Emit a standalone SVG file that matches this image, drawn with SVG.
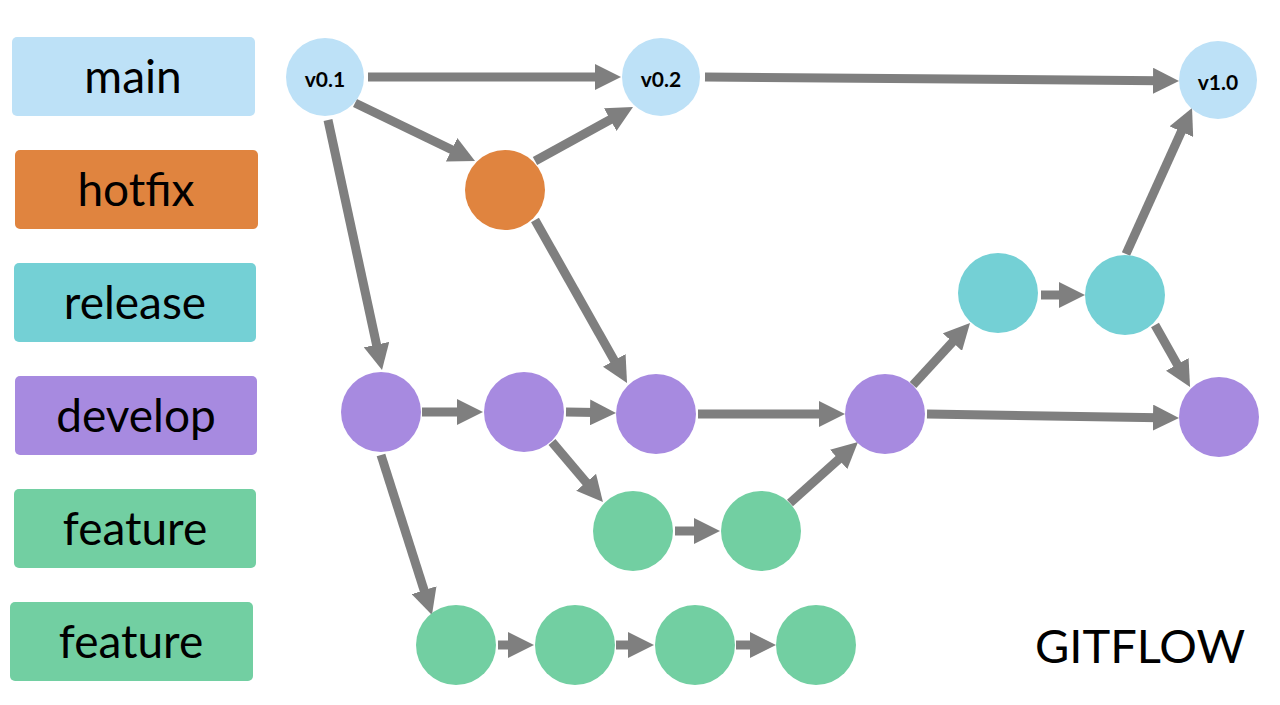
<svg xmlns="http://www.w3.org/2000/svg" width="1280" height="705" viewBox="0 0 1280 705">
<style>
.lbl{font-family:Lato,"Open Sans","Liberation Sans",sans-serif;font-size:46px;fill:#000;text-anchor:middle;dominant-baseline:central}
.ver{font-family:Lato,"Open Sans","Liberation Sans",sans-serif;font-size:21px;font-weight:bold;fill:#000;text-anchor:middle;dominant-baseline:central}
.main{fill:#BDE1F7}.hot{fill:#E0843F}.rel{fill:#74D0D5}.dev{fill:#A78AE0}.feat{fill:#72CFA2}
.c line{stroke:#7F7F7F;stroke-width:9;marker-end:url(#ah)}
</style>
<defs>
<marker id="ah" viewBox="0 0 26 26" refX="6" refY="13" markerWidth="26" markerHeight="26" markerUnits="userSpaceOnUse" orient="auto">
<path d="M0,0 L26,13 L0,26 z" fill="#7F7F7F"/>
</marker>
</defs>
<rect width="1280" height="705" fill="#fff"/>
<g id="legend">
<g id="lg-main"><rect class="main" x="12" y="37" width="243" height="79" rx="5"/><text class="lbl" x="133" y="75">main</text></g>
<g id="lg-hotfix"><rect class="hot" x="15" y="150" width="243" height="79" rx="5"/><text class="lbl" x="136" y="188">hotfix</text></g>
<g id="lg-release"><rect class="rel" x="14" y="263" width="242" height="79" rx="5"/><text class="lbl" x="135" y="301">release</text></g>
<g id="lg-develop"><rect class="dev" x="15" y="376" width="242" height="79" rx="5"/><text class="lbl" x="136" y="414">develop</text></g>
<g id="lg-feature1"><rect class="feat" x="14" y="489" width="242" height="79" rx="5"/><text class="lbl" x="135" y="527">feature</text></g>
<g id="lg-feature2"><rect class="feat" x="10" y="602" width="243" height="79" rx="5"/><text class="lbl" x="131" y="640">feature</text></g>
</g>
<g id="connectors" class="c">
<line x1="368" y1="77" x2="601" y2="77"/>
<line x1="705" y1="77" x2="1159" y2="80.8"/>
<line x1="355" y1="103" x2="457" y2="152.3"/>
<line x1="535" y1="161" x2="615.5" y2="116.7"/>
<line x1="328" y1="120" x2="377.8" y2="350.5"/>
<line x1="535" y1="220" x2="617.2" y2="365.6"/>
<line x1="422" y1="412" x2="463" y2="412"/>
<line x1="566" y1="412" x2="596" y2="412.6"/>
<line x1="552" y1="442" x2="590" y2="486.8"/>
<line x1="675" y1="531" x2="700" y2="531"/>
<line x1="790" y1="503" x2="843.1" y2="455.4"/>
<line x1="698" y1="414" x2="825" y2="414"/>
<line x1="913" y1="385" x2="956.5" y2="337.7"/>
<line x1="1041" y1="295" x2="1065" y2="295"/>
<line x1="1126" y1="254" x2="1183.8" y2="126.2"/>
<line x1="1155" y1="325" x2="1180.2" y2="369.6"/>
<line x1="927" y1="414" x2="1159" y2="417.7"/>
<line x1="381" y1="455" x2="425.9" y2="595.9"/>
<line x1="498" y1="645" x2="514" y2="645"/>
<line x1="616" y1="645" x2="634" y2="645"/>
<line x1="736" y1="645" x2="756" y2="645"/>
</g>
<g id="n-v01"><circle class="main" cx="325" cy="77" r="39"/><text class="ver" x="325" y="78">v0.1</text></g>
<g id="n-v02"><circle class="main" cx="661" cy="77" r="39"/><text class="ver" x="661" y="78">v0.2</text></g>
<g id="n-v10"><circle class="main" cx="1218" cy="80" r="39"/><text class="ver" x="1218" y="81">v1.0</text></g>
<g id="n-hotfix"><circle class="hot" cx="505" cy="190" r="40"/></g>
<g id="n-rel1"><circle class="rel" cx="998" cy="293" r="40"/></g>
<g id="n-rel2"><circle class="rel" cx="1125" cy="295" r="40"/></g>
<g id="n-dev1"><circle class="dev" cx="381" cy="412" r="40"/></g>
<g id="n-dev2"><circle class="dev" cx="524" cy="412" r="40"/></g>
<g id="n-dev3"><circle class="dev" cx="656" cy="414" r="40"/></g>
<g id="n-dev4"><circle class="dev" cx="885" cy="414" r="40"/></g>
<g id="n-dev5"><circle class="dev" cx="1219" cy="417" r="40"/></g>
<g id="n-fa1"><circle class="feat" cx="633" cy="531" r="40"/></g>
<g id="n-fa2"><circle class="feat" cx="761" cy="531" r="40"/></g>
<g id="n-fb1"><circle class="feat" cx="456" cy="645" r="40"/></g>
<g id="n-fb2"><circle class="feat" cx="575" cy="645" r="40"/></g>
<g id="n-fb3"><circle class="feat" cx="695" cy="645" r="40"/></g>
<g id="n-fb4"><circle class="feat" cx="816" cy="645" r="40"/></g>
<text x="1140" y="645" style="font-family:Lato,'Open Sans','Liberation Sans',sans-serif;font-size:47px;fill:#000;text-anchor:middle;dominant-baseline:central">GITFLOW</text>
</svg>
